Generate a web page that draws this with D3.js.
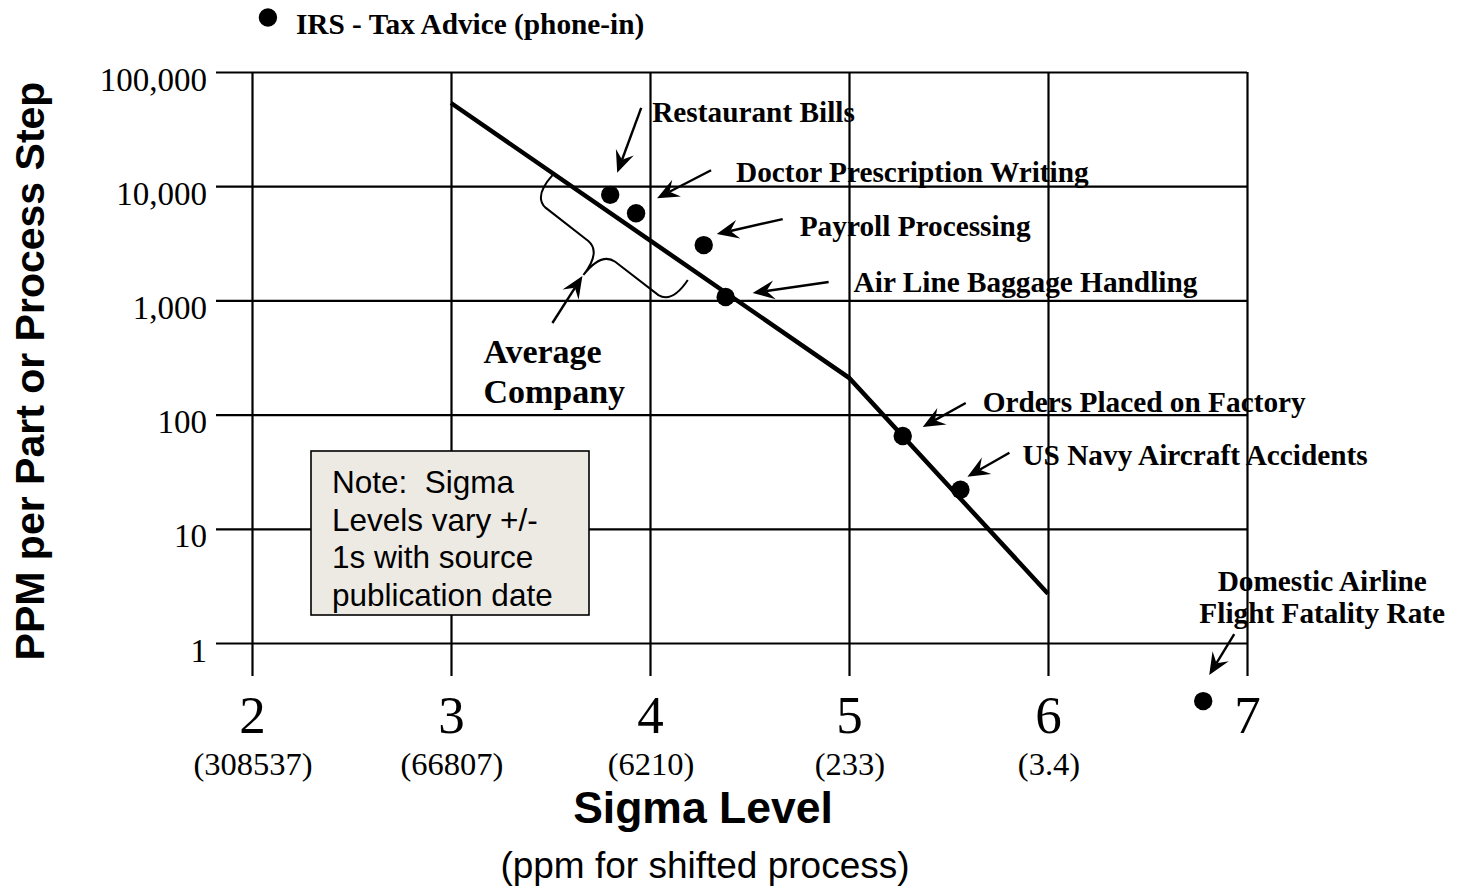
<!DOCTYPE html>
<html><head><meta charset="utf-8">
<script src="https://cdn.jsdelivr.net/npm/d3@7"></script>
<style>
html,body{margin:0;padding:0;background:#fff;}
svg{display:block;}
</style></head>
<body><svg id="chart" width="1460" height="888"></svg>
<script>
// ---------------- data ----------------
const sigmaTicks = [2, 3, 4, 5, 6, 7];
const sigmaTickLabels = ["2", "3", "4", "5", "6", "7"];
const ppmShiftedLabels = ["(308537)", "(66807)", "(6210)", "(233)", "(3.4)"];
const yTickValues = [1, 10, 100, 1000, 10000, 100000];
const yTickLabels = ["1", "10", "100", "1,000", "10,000", "100,000"];
const curveSigma = [3, 5, 6];
const curvePpm = [53500, 210, 2.7];
const pointNames = ["IRS - Tax Advice (phone-in)", "Restaurant Bills", "Doctor Prescription Writing",
  "Payroll Processing", "Air Line Baggage Handling", "Orders Placed on Factory",
  "US Navy Aircraft Accidents", "Domestic Airline\nFlight Fatality Rate"];
const pointSigma = [2.08, 3.80, 3.93, 4.27, 4.38, 5.27, 5.56, 6.78];
const pointPpm = [300000, 8400, 5800, 3050, 1070, 65, 22, 0.31];
const braceSigma = [3.51, 4.19];
const bracePpm = [12500, 1510];
const braceLabel = ["Average", "Company"];
const noteLines = ["Note:  Sigma", "Levels vary +/-", "1s with source", "publication date"];

// ---------------- layout ----------------
const W = 1460, H = 888;
const plot = {left: 252, right: 1247, top: 72, bottom: 643, gridLeft: 216, tickBottom: 676};
const SERIF = "'Liberation Serif','Times New Roman',serif";
const SANS = "'Liberation Sans',Arial,sans-serif";
// label / arrow offsets relative to each point (pixels)
const ann = [
  {label: [28, 16]},
  {label: [42, -73], tail: [31, -87], tip: [7, -22]},
  {label: [100, -31], tail: [75, -43], tip: [21, -15]},
  {label: [96, -9], tail: [79, -26], tip: [13, -11]},
  {label: [128, -5], tail: [103, -15], tip: [27, -4]},
  {label: [80, -24], tail: [63, -33], tip: [20, -9]},
  {label: [62, -25], tail: [49, -37], tip: [7, -13]},
  {label: [119, -110], center: true, tail: [31, -67], tip: [6, -26]}
];

const svg = d3.select("#chart");
svg.append("rect").attr("width", W).attr("height", H).attr("fill", "#fff");

const x = d3.scaleLinear().domain([2, 7]).range([plot.left, plot.right]);
const y = d3.scaleLog().domain([1, 100000]).range([plot.bottom, plot.top]);

// ---------- horizontal grid (y axis) ----------
const yAxis = d3.axisLeft(y).tickValues(yTickValues)
  .tickSize(-(plot.right - plot.gridLeft)).tickPadding(9)
  .tickFormat((d, i) => yTickLabels[i]);
const gy = svg.append("g").attr("transform", `translate(${plot.gridLeft},0)`).call(yAxis);
gy.select(".domain").remove();
gy.selectAll(".tick line").attr("stroke", "#000").attr("stroke-width", 2.2);
gy.selectAll(".tick text").attr("font-family", SERIF).attr("font-size", 33)
  .attr("fill", "#000").attr("dy", 18);

// ---------- vertical grid (x axis) ----------
const xAxis = d3.axisBottom(x).tickValues(sigmaTicks)
  .tickSize(-(plot.tickBottom - plot.top)).tickFormat((d, i) => sigmaTickLabels[i]);
const gx = svg.append("g").attr("transform", `translate(0,${plot.tickBottom})`).call(xAxis);
gx.select(".domain").remove();
gx.selectAll(".tick line").attr("stroke", "#000").attr("stroke-width", 2.2);
gx.selectAll(".tick text").attr("font-family", SERIF).attr("font-size", 53)
  .attr("fill", "#000").attr("y", 57).attr("dy", 0);

// ppm in parentheses under sigma labels
svg.append("g").selectAll("text").data(ppmShiftedLabels).join("text")
  .attr("x", (d, i) => x(sigmaTicks[i]) + 1).attr("y", 775)
  .attr("text-anchor", "middle").attr("font-family", SERIF).attr("font-size", 32.5)
  .text(d => d);

// ---------- note box ----------
const note = svg.append("g");
note.append("rect").attr("x", 311).attr("y", 451).attr("width", 278).attr("height", 164)
  .attr("fill", "#EDEAE3").attr("stroke", "#000").attr("stroke-width", 1.6);
note.selectAll("text").data(noteLines).join("text")
  .attr("x", 332).attr("y", (d, i) => 493 + i * 37.7)
  .attr("font-family", SANS).attr("font-size", 31.5).attr("fill", "#000")
  .attr("xml:space", "preserve").style("white-space", "pre").text(d => d);

// ---------- main curve ----------
const curveData = curveSigma.map((s, i) => [s, curvePpm[i]]);
svg.append("path").datum(curveData)
  .attr("d", d3.line().x(d => x(d[0])).y(d => y(d[1])))
  .attr("fill", "none").attr("stroke", "#000").attr("stroke-width", 4.5)
  .attr("stroke-linejoin", "miter");

// ---------- arrows helper ----------
function arrow(g, x1, y1, x2, y2) {
  const ang = Math.atan2(y2 - y1, x2 - x1);
  const len = 22, hw = 9.5, notch = 14;
  const bx = x2 - Math.cos(ang) * notch, by = y2 - Math.sin(ang) * notch;
  g.append("line").attr("x1", x1).attr("y1", y1).attr("x2", bx).attr("y2", by)
    .attr("stroke", "#000").attr("stroke-width", 2.4);
  g.append("path")
    .attr("d", `M0,0 L${-len},${-hw} L${-notch},0 L${-len},${hw} Z`)
    .attr("transform", `translate(${x2},${y2}) rotate(${ang * 180 / Math.PI})`)
    .attr("fill", "#000");
}

// ---------- points, labels, arrows ----------
const pts = pointNames.map((n, i) => ({name: n, s: pointSigma[i], p: pointPpm[i], a: ann[i]}));
const gp = svg.append("g");
pts.forEach(d => {
  const px = x(d.s), py = y(d.p);
  if (d.a.tail) arrow(gp, px + d.a.tail[0], py + d.a.tail[1], px + d.a.tip[0], py + d.a.tip[1]);
  const lines = d.name.split("\n");
  gp.append("text")
    .attr("font-family", SERIF).attr("font-weight", "bold").attr("font-size", 29.3)
    .attr("text-anchor", d.a.center ? "middle" : "start")
    .selectAll("tspan").data(lines).join("tspan")
    .attr("x", px + d.a.label[0]).attr("y", (l, j) => py + d.a.label[1] + j * 32)
    .text(l => l);
});
gp.selectAll("circle.pt").data(pts).join("circle").attr("class", "pt")
  .attr("cx", d => x(d.s)).attr("cy", d => y(d.p)).attr("r", 9.2).attr("fill", "#000");

// ---------- brace for "Average Company" ----------
const A = [x(braceSigma[0]), y(bracePpm[0])], B = [x(braceSigma[1]), y(bracePpm[1])];
const L = Math.hypot(B[0] - A[0], B[1] - A[1]);
const u = [(B[0] - A[0]) / L, (B[1] - A[1]) / L], nv = [-u[1], u[0]];
const P = (s, t) => [A[0] + s * u[0] + t * nv[0], A[1] + s * u[1] + t * nv[1]];
const h = L / 2, depth = 60, arm = 30;
const f = p => p[0].toFixed(1) + "," + p[1].toFixed(1);
const braceD = `M${f(P(0, 0))} Q${f(P(-2, arm - 2))} ${f(P(14, arm))} L${f(P(h - 17, arm))} ` +
  `Q${f(P(h, arm + 1))} ${f(P(h, depth))} Q${f(P(h, arm + 1))} ${f(P(h + 17, arm))} ` +
  `L${f(P(L - 14, arm))} Q${f(P(L + 2, arm - 2))} ${f(P(L, 0))}`;
svg.append("path").attr("d", braceD).attr("fill", "none").attr("stroke", "#000").attr("stroke-width", 2);
const C = P(h, depth);
arrow(svg, C[0] - 31, C[1] + 48, C[0] - 1, C[1] + 1);
svg.append("text").attr("font-family", SERIF).attr("font-weight", "bold").attr("font-size", 34)
  .selectAll("tspan").data(braceLabel).join("tspan")
  .attr("x", C[0] - 100).attr("y", (d, i) => C[1] + 88 + i * 40).text(d => d);

// ---------- axis titles ----------
svg.append("text").attr("transform", "translate(44,371) rotate(-90)")
  .attr("text-anchor", "middle").attr("font-family", SANS).attr("font-weight", "bold")
  .attr("font-size", 41).text("PPM per Part or Process Step");
svg.append("text").attr("x", 703).attr("y", 823).attr("text-anchor", "middle")
  .attr("font-family", SANS).attr("font-weight", "bold").attr("font-size", 44.5).text("Sigma Level");
svg.append("text").attr("x", 705).attr("y", 878).attr("text-anchor", "middle")
  .attr("font-family", SANS).attr("font-size", 37).text("(ppm for shifted process)");
</script>
</body></html>
